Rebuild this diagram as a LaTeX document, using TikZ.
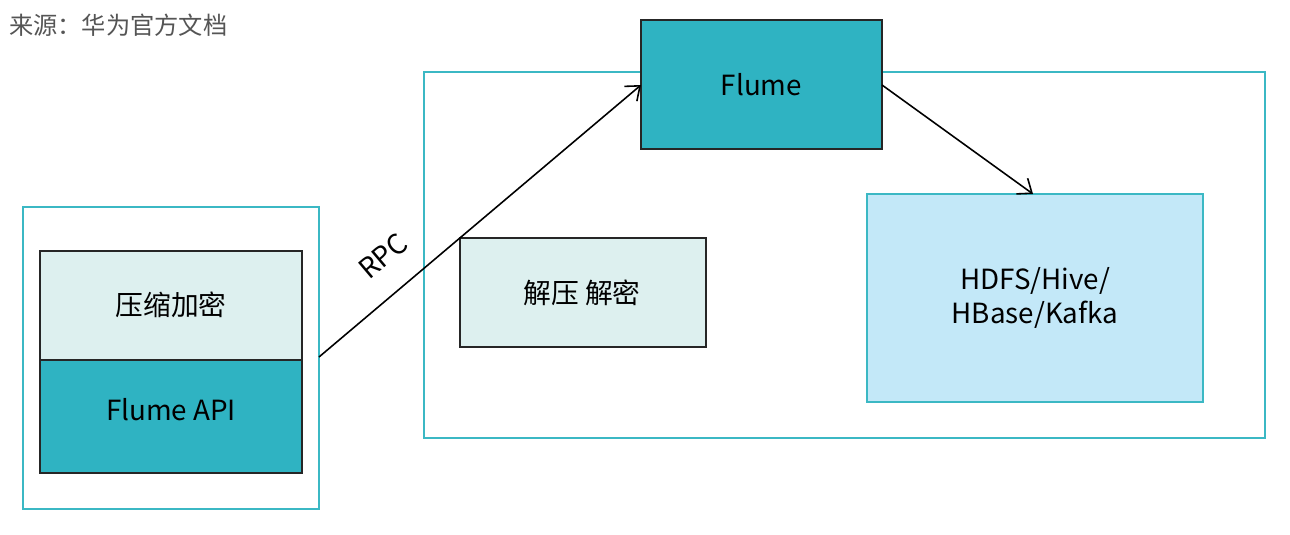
\documentclass[tikz,border=0pt]{standalone}
\usepackage{fontspec}
\setmainfont{Noto Sans CJK SC}
\usetikzlibrary{arrows.meta}
\definecolor{teal1}{HTML}{2FB3C2}
\definecolor{tealline}{HTML}{3BB8C4}
\definecolor{pale}{HTML}{DDF0EF}
\definecolor{skyb}{HTML}{C3E8F8}
\definecolor{capgray}{HTML}{555555}
\begin{document}
\begin{tikzpicture}[x=0.02cm,y=-0.02cm,
  outer/.style={draw=tealline,line width=0.8pt},
  blk/.style={draw=black!85,line width=0.8pt},
  lbl/.style={font=\fontsize{15.8}{19}\selectfont,text=black},
  conn/.style={draw=black,line width=0.9pt,-{Straight Barb[length=7pt,width=11pt,line width=0.9pt]}}]
\useasboundingbox (0,0) rectangle (1290,534);
% caption
\node[anchor=west,text=capgray,font=\fontsize{13.8}{16}\selectfont] (cap) at (3,25) {来源：华为官方文档};
% left outer
\draw[outer] (23,207) rectangle (319,509);
\coordinate (lefte) at (319,357);
\draw[blk,fill=pale] (40,251) rectangle (302,360);
\node[lbl] (ysjm) at (171,305) {压缩加密};
\draw[blk,fill=teal1] (40,360) rectangle (302,473);
\node[lbl] (fapi) at (171,410) {Flume API};
% right outer
\draw[outer] (424,72) rectangle (1265,438);
% Flume
\draw[blk,fill=teal1] (641,20) rectangle (882,149);
\node[lbl] (flume) at (761.5,85) {Flume};
\coordinate (flw) at (641,85);
\coordinate (fle) at (882,85);
% decompress
\draw[blk,fill=pale] (460,238) rectangle (706,347);
\node[lbl] (jy) at (582,293) {解压 解密};
% HDFS
\draw[draw=tealline,line width=1.2pt,fill=skyb] (867,194) rectangle (1203,402);
\node[lbl,align=center] (hdfs) at (1035,298) {HDFS/Hive/\\HBase/Kafka};
\coordinate (hdt) at (1033,194);
% arrows
\draw[conn] (lefte) -- (flw);
\node[lbl,rotate=40.2,inner sep=0pt] (rpc) at (383,256) {RPC};
\draw[conn] (fle) -- (hdt);
\end{tikzpicture}
\end{document}
